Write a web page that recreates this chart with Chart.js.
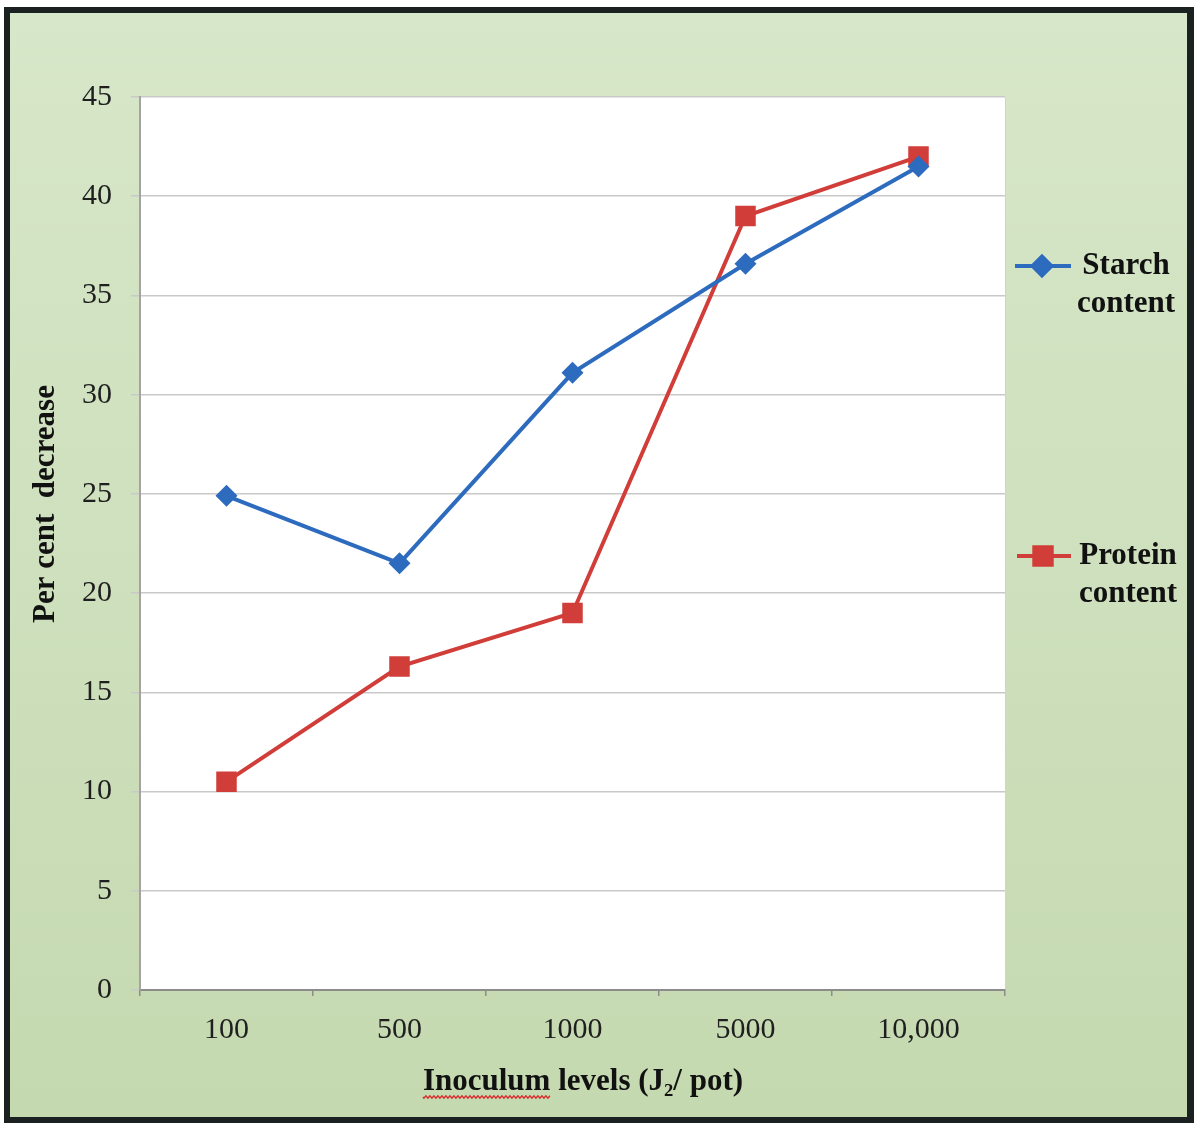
<!DOCTYPE html>
<html>
<head>
<meta charset="utf-8">
<script src="https://cdn.jsdelivr.net/npm/chart.js@4.4.1/dist/chart.umd.min.js"></script>
<style>
  html, body { margin: 0; padding: 0; background: #ffffff; }
  #wrap { position: absolute; left: 0; top: 0; width: 1198px; height: 1123px; }
</style>
</head>
<body>
<div id="wrap"><canvas id="chart" width="1198" height="1123"></canvas></div>
<script>
// Inoculum levels (J2 per pot) and the per cent decrease measured at each level
const categories = ['100', '500', '1000', '5000', '10,000'];
const starchContent = [24.9, 21.5, 31.1, 36.6, 41.5];
const proteinContent = [10.5, 16.3, 19.0, 39.0, 42.0];
const yMin = 0;
const yMax = 45;
const yStep = 5;

const seriesNames = [['Starch', 'content'], ['Protein', 'content']];
const xTitle = 'Inoculum levels (J\u2082/ pot)';
const yTitle = 'Per cent  decrease';

const BLUE = '#2c6bbd';
const RED = '#d13d38';
const SERIF = '"Liberation Serif", "Times New Roman", serif';

// Frame, green panel and white plotting area
const framePlugin = {
  id: 'frame',
  beforeDraw(chart) {
    const ctx = chart.ctx;
    const { left, top, right, bottom } = chart.chartArea;
    ctx.save();
    ctx.fillStyle = '#ffffff';
    ctx.fillRect(0, 0, chart.width, chart.height);
    ctx.fillStyle = '#1b2020';
    ctx.fillRect(4, 7, 1190, 1116);
    const g = ctx.createLinearGradient(0, 13, 0, 1117);
    g.addColorStop(0, '#d7e7c9');
    g.addColorStop(0.5, '#cee0bd');
    g.addColorStop(1, '#c5d9b0');
    ctx.fillStyle = g;
    ctx.fillRect(10, 13, 1177, 1104);
    ctx.fillStyle = '#ffffff';
    ctx.fillRect(left, top, right - left, bottom - top);
    ctx.strokeStyle = '#d2d2d2';
    ctx.lineWidth = 1;
    ctx.beginPath();
    ctx.moveTo(right + 0.5, top);
    ctx.lineTo(right + 0.5, bottom);
    ctx.stroke();
    ctx.restore();
  }
};

// Axis titles, legend at the right
const labelsPlugin = {
  id: 'labels',
  afterDraw(chart) {
    const ctx = chart.ctx;
    ctx.save();
    ctx.fillStyle = '#111111';
    ctx.font = 'bold 31px ' + SERIF;
    ctx.textAlign = 'center';
    ctx.textBaseline = 'middle';

    // y title
    ctx.save();
    ctx.translate(46, 504);
    ctx.rotate(-Math.PI / 2);
    ctx.fillText(yTitle, 0, 0);
    ctx.restore();

    // x title
    const xc = 583, yc = 1082;
    ctx.fillText(xTitle, xc, yc);
    const fullW = ctx.measureText(xTitle).width;
    const wordW = ctx.measureText('Inoculum').width;
    const x0 = xc - fullW / 2;
    ctx.strokeStyle = '#d63030';
    ctx.lineWidth = 1.4;
    ctx.beginPath();
    for (let x = x0; x <= x0 + wordW; x += 1) {
      const y = yc + 15 + Math.sin((x - x0) * Math.PI / 2) * 1.2;
      if (x === x0) ctx.moveTo(x, y); else ctx.lineTo(x, y);
    }
    ctx.stroke();

    // legend
    const entries = [
      { ds: chart.data.datasets[0], y: 266, lx0: 1015, lx1: 1071, mx: 1042, tx: 1126 },
      { ds: chart.data.datasets[1], y: 556, lx0: 1017, lx1: 1071, mx: 1043, tx: 1128 }
    ];
    entries.forEach((e, i) => {
      ctx.strokeStyle = e.ds.borderColor;
      ctx.lineWidth = 4;
      ctx.beginPath();
      ctx.moveTo(e.lx0, e.y);
      ctx.lineTo(e.lx1, e.y);
      ctx.stroke();
      Chart.helpers.drawPoint(ctx, {
        pointStyle: e.ds.pointStyle,
        radius: e.ds.pointRadius * (i === 0 ? 0.85 : 0.85),
        rotation: 0,
        borderWidth: 1
      }, e.mx, e.y);
      ctx.fillStyle = e.ds.backgroundColor;
      ctx.fill();
      ctx.fillStyle = '#111111';
      ctx.fillText(seriesNames[i][0], e.tx, e.y);
      ctx.fillText(seriesNames[i][1], e.tx, e.y + 38);
    });
    ctx.restore();
  }
};

new Chart(document.getElementById('chart'), {
  type: 'line',
  data: {
    labels: categories,
    datasets: [
      {
        label: seriesNames[0].join(' '),
        data: starchContent,
        borderColor: BLUE,
        backgroundColor: BLUE,
        borderWidth: 4,
        pointStyle: 'rectRot',
        pointRadius: 11,
        pointBorderWidth: 0,
        tension: 0
      },
      {
        label: seriesNames[1].join(' '),
        data: proteinContent,
        borderColor: RED,
        backgroundColor: RED,
        borderWidth: 4,
        pointStyle: 'rect',
        pointRadius: 14.5,
        pointBorderWidth: 0,
        tension: 0
      }
    ]
  },
  options: {
    responsive: false,
    animation: false,
    devicePixelRatio: 1,
    layout: { padding: { left: 0, top: 97, right: 193, bottom: 13 } },
    plugins: {
      legend: { display: false },
      tooltip: { enabled: false },
      title: { display: false }
    },
    scales: {
      x: {
        type: 'category',
        offset: true,
        afterFit(scale) { scale.height = 120; },
        grid: {
          offset: true,
          drawOnChartArea: false,
          drawTicks: true,
          tickLength: 6,
          color: '#8c8c8c',
          lineWidth: 1.5
        },
        border: { color: '#8c8c8c', width: 2 },
        ticks: {
          padding: 16,
          color: '#1f1f1f',
          font: { family: SERIF, size: 30 },
          maxRotation: 0
        },
        title: { display: false }
      },
      y: {
        min: yMin,
        max: yMax,
        afterFit(scale) { scale.width = 140; },
        grid: {
          color: '#c9c9c9',
          lineWidth: 1.5,
          drawTicks: true,
          tickLength: 9
        },
        border: { color: '#a3a3a3', width: 2 },
        ticks: {
          stepSize: yStep,
          padding: 19,
          color: '#1f1f1f',
          font: { family: SERIF, size: 30 }
        },
        title: { display: false }
      }
    }
  },
  plugins: [framePlugin, labelsPlugin]
});
</script>
</body>
</html>
